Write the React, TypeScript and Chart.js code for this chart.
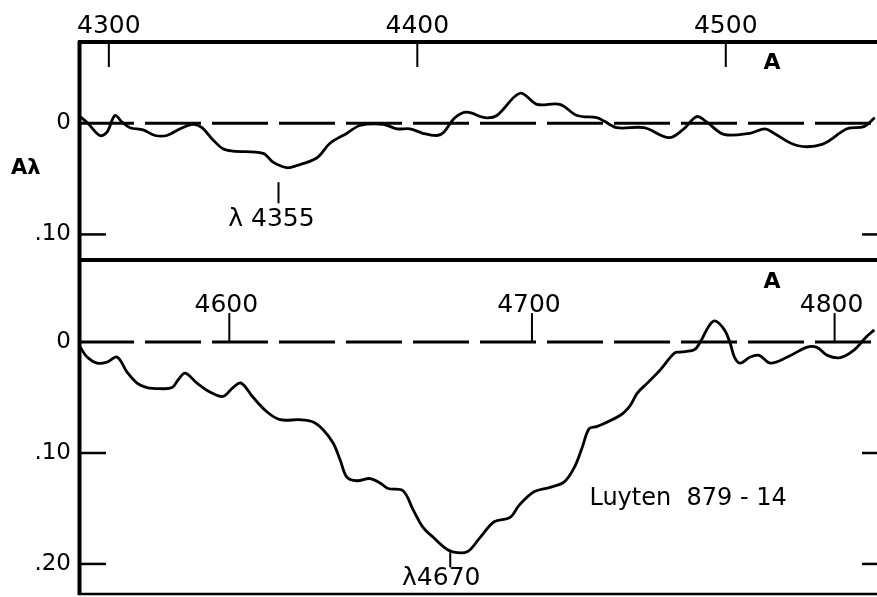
import React, { useEffect, useRef } from "react";
import { Chart, registerables } from "chart.js";

Chart.register(...registerables);

// Upper panel: wavelength (A) vs absorption A_lambda
const TOP_LAMBDA = [4290.3, 4293.2, 4297.1, 4299.4, 4302.0, 4304.3, 4306.9, 4311.1, 4315.0, 4318.8, 4323.1, 4327.3, 4330.2, 4333.8, 4337.0, 4340.2, 4350.0, 4353.2, 4357.7, 4361.0, 4367.5, 4371.7, 4377.2, 4381.4, 4388.9, 4393.4, 4397.6, 4401.8, 4406.4, 4408.6, 4412.2, 4416.1, 4421.9, 4425.8, 4433.3, 4438.8, 4446.2, 4451.8, 4458.2, 4460.5, 4464.7, 4473.5, 4481.6, 4486.4, 4490.6, 4493.9, 4499.4, 4507.8, 4512.7, 4515.6, 4523.1, 4531.2, 4539.3, 4544.8, 4548.3];
const TOP_A = [-0.007, 0, 0.011, 0.008, -0.007, -0.001, 0.004, 0.006, 0.011, 0.011, 0.005, 0.001, 0.004, 0.015, 0.023, 0.025, 0.027, 0.035, 0.040, 0.038, 0.031, 0.018, 0.009, 0.002, 0.001, 0.005, 0.005, 0.009, 0.011, 0.008, -0.005, -0.010, -0.005, -0.007, -0.027, -0.017, -0.017, -0.007, -0.005, -0.002, 0.004, 0.004, 0.013, 0.005, -0.006, -0.001, 0.010, 0.009, 0.005, 0.009, 0.020, 0.019, 0.005, 0.003, -0.005];

// Lower panel
const BOTTOM_LAMBDA = [4550.7, 4553.0, 4556.3, 4559.6, 4562.9, 4566.2, 4569.5, 4572.8, 4577.1, 4581.1, 4583.1, 4585.4, 4589.3, 4593.6, 4597.9, 4601.2, 4603.9, 4607.9, 4612.5, 4616.8, 4623.4, 4627.7, 4631.0, 4634.3, 4636.6, 4638.9, 4642.2, 4646.5, 4649.8, 4652.5, 4657.4, 4660.7, 4664.0, 4667.4, 4671.0, 4673.6, 4678.6, 4682.9, 4687.5, 4692.8, 4695.8, 4700.7, 4706.0, 4710.7, 4714.0, 4716.6, 4718.9, 4721.6, 4729.2, 4732.5, 4734.8, 4738.1, 4742.4, 4747.0, 4749.0, 4753.6, 4755.6, 4758.6, 4760.6, 4763.6, 4765.5, 4766.9, 4768.8, 4772.1, 4775.1, 4778.8, 4784.4, 4791.0, 4794.3, 4797.6, 4801.9, 4806.5, 4810.2, 4813.1];
const BOTTOM_A = [0.0045, 0.0135, 0.019, 0.018, 0.0135, 0.027, 0.037, 0.041, 0.042, 0.041, 0.034, 0.028, 0.037, 0.045, 0.049, 0.041, 0.037, 0.050, 0.063, 0.070, 0.070, 0.072, 0.079, 0.091, 0.106, 0.122, 0.125, 0.123, 0.127, 0.132, 0.134, 0.151, 0.167, 0.176, 0.185, 0.189, 0.189, 0.176, 0.162, 0.158, 0.147, 0.135, 0.131, 0.126, 0.113, 0.095, 0.078, 0.076, 0.066, 0.057, 0.046, 0.037, 0.025, 0.010, 0.009, 0.007, 0.000, -0.015, -0.019, -0.011, 0.001, 0.0135, 0.019, 0.0135, 0.012, 0.019, 0.0135, 0.0045, 0.005, 0.012, 0.014, 0.007, -0.004, -0.011];

const TOP_X_TICKS = [4300, 4400, 4500];
const BOTTOM_X_TICKS = [4600, 4700, 4800];
const TOP_Y_TICKS = [0, 0.1];
const BOTTOM_Y_TICKS = [0, 0.1, 0.2];

const TOP_RANGE = { xMin: 4290, xMax: 4550, yMin: -0.074, yMax: 0.123 };
const BOTTOM_RANGE = { xMin: 4550, xMax: 4815, yMin: -0.074, yMax: 0.228 };

const Y_LABEL = "Aλ";
const UNIT_LABEL = "A";
const TOP_LINE_LABEL = { text: "λ 4355", lambda: 4355, y1: 0.053, y2: 0.072 };
const BOTTOM_LINE_LABEL = { text: "λ4670", lambda: 4673, y1: 0.187, y2: 0.203 };
const STAR_LABEL = { text: "Luyten  879 - 14", lambda: 4719, a: 0.147 };

const FONT = '"DejaVu Sans", sans-serif';

function line(ctx: CanvasRenderingContext2D, x1: number, y1: number, x2: number, y2: number, w: number) {
  ctx.beginPath();
  ctx.lineWidth = w;
  ctx.moveTo(x1, y1);
  ctx.lineTo(x2, y2);
  ctx.stroke();
}

function yFmt(v: any) {
  const n = Number(v);
  return n === 0 ? "0" : "." + String(Math.round(n * 100));
}

function panelPlugin(isTop: boolean) {
  return {
    id: isTop ? "topPanel" : "bottomPanel",
    beforeDatasetsDraw(chart: any) {
      const { ctx, chartArea: a, scales } = chart;
      const x = scales.x;
      const y = scales.y;
      ctx.save();
      ctx.strokeStyle = "#000";
      ctx.fillStyle = "#000";
      // dashed zero line
      const y0 = y.getPixelForValue(0);
      ctx.setLineDash([56, 11]);
      line(ctx, a.left, y0, a.right, y0, 3);
      ctx.setLineDash([]);
      // frame
      line(ctx, a.left + 1.5, a.top, a.left + 1.5, a.bottom, 4);
      if (isTop) {
        line(ctx, a.left, a.top + 1, a.right, a.top + 1, 4);
        line(ctx, a.left, a.bottom, a.right, a.bottom, 4);
      } else {
        line(ctx, a.left, a.top, a.right, a.top, 4);
        line(ctx, a.left, a.bottom - 1, a.right, a.bottom - 1, 2.5);
      }
      // y tick marks (left and right, inside)
      const yTicks = isTop ? TOP_Y_TICKS : BOTTOM_Y_TICKS;
      yTicks.forEach((v) => {
        if (v === 0) return;
        const py = y.getPixelForValue(v);
        line(ctx, a.left, py, a.left + 28, py, 2.5);
        line(ctx, 862, py, a.right, py, 2.5);
      });
      // x tick marks
      if (isTop) {
        TOP_X_TICKS.forEach((v) => {
          const px = x.getPixelForValue(v);
          line(ctx, px, a.top, px, a.top + 26, 2);
        });
      } else {
        ctx.font = `25px ${FONT}`;
        ctx.textAlign = "center";
        ctx.textBaseline = "alphabetic";
        BOTTOM_X_TICKS.forEach((v) => {
          const px = x.getPixelForValue(v);
          line(ctx, px, y0 - 29, px, y0, 2);
          ctx.fillText(String(v), px - 3, y0 - 30);
        });
      }
      ctx.restore();
    },
    afterDatasetsDraw(chart: any) {
      const { ctx, chartArea: a, scales } = chart;
      const x = scales.x;
      const y = scales.y;
      ctx.save();
      ctx.strokeStyle = "#000";
      ctx.fillStyle = "#000";
      ctx.textBaseline = "alphabetic";
      // unit "A"
      ctx.font = `bold 22px ${FONT}`;
      ctx.textAlign = "center";
      ctx.fillText(UNIT_LABEL, 772, a.top + 28);
      if (isTop) {
        ctx.font = `bold 21px ${FONT}`;
        ctx.textAlign = "left";
        ctx.fillText(Y_LABEL, 11, 174);
        const lx = x.getPixelForValue(TOP_LINE_LABEL.lambda);
        const ly2 = y.getPixelForValue(TOP_LINE_LABEL.y2);
        line(ctx, lx, y.getPixelForValue(TOP_LINE_LABEL.y1), lx, ly2, 2);
        ctx.font = `25px ${FONT}`;
        ctx.textAlign = "center";
        ctx.fillText(TOP_LINE_LABEL.text, lx - 7, ly2 + 23);
      } else {
        const lx = x.getPixelForValue(BOTTOM_LINE_LABEL.lambda);
        const ly2 = y.getPixelForValue(BOTTOM_LINE_LABEL.y2);
        line(ctx, lx, y.getPixelForValue(BOTTOM_LINE_LABEL.y1), lx, ly2, 2);
        ctx.font = `25px ${FONT}`;
        ctx.textAlign = "center";
        ctx.fillText(BOTTOM_LINE_LABEL.text, lx - 9, ly2 + 18);
        ctx.font = `24px ${FONT}`;
        ctx.textAlign = "left";
        ctx.fillText(STAR_LABEL.text, x.getPixelForValue(STAR_LABEL.lambda), y.getPixelForValue(STAR_LABEL.a));
      }
      ctx.restore();
    },
  };
}

function makeChart(canvas: HTMLCanvasElement, isTop: boolean) {
  const lam = isTop ? TOP_LAMBDA : BOTTOM_LAMBDA;
  const val = isTop ? TOP_A : BOTTOM_A;
  const r = isTop ? TOP_RANGE : BOTTOM_RANGE;
  const yTicks = isTop ? TOP_Y_TICKS : BOTTOM_Y_TICKS;
  const xTicks = isTop ? TOP_X_TICKS : BOTTOM_X_TICKS;
  return new Chart(canvas, {
    type: "line",
    data: {
      datasets: [
        {
          data: lam.map((l, i) => ({ x: l, y: val[i] })),
          borderColor: "#000",
          borderWidth: 2.8,
          pointRadius: 0,
          tension: 0.35,
          fill: false,
        },
      ],
    },
    options: {
      animation: false,
      responsive: false,
      maintainAspectRatio: false,
      devicePixelRatio: 1,
      layout: { padding: isTop ? { top: 0, bottom: 2, left: 0, right: 0 } : { top: 2, bottom: 2, left: 0, right: 0 } },
      plugins: { legend: { display: false }, tooltip: { enabled: false } },
      scales: {
        x: {
          type: "linear",
          display: isTop,
          position: "top",
          min: r.xMin,
          max: r.xMax,
          grid: { display: false, drawTicks: false },
          border: { display: false },
          afterBuildTicks: (s: any) => {
            s.ticks = xTicks.map((v) => ({ value: v }));
          },
          afterFit: (s: any) => {
            s.height = isTop ? 41 : 0;
            s.paddingLeft = 0;
            s.paddingRight = 0;
            s.paddingTop = 0;
            s.paddingBottom = 0;
          },
          ticks: {
            color: "#000",
            padding: 0,
            maxRotation: 0,
            font: { family: FONT, size: 25 },
            callback: (v: any) => String(v),
          },
        },
        y: {
          type: "linear",
          position: "left",
          reverse: true,
          min: r.yMin,
          max: r.yMax,
          grid: { display: false, drawTicks: false },
          border: { display: false },
          afterBuildTicks: (s: any) => {
            s.ticks = yTicks.map((v) => ({ value: v }));
          },
          afterFit: (s: any) => {
            s.width = 78;
            s.paddingTop = 0;
            s.paddingBottom = 0;
            s.paddingLeft = 0;
            s.paddingRight = 0;
          },
          ticks: {
            color: "#000",
            padding: 7,
            font: { family: FONT, size: 23 },
            callback: yFmt,
          },
        },
      },
    },
    plugins: [panelPlugin(isTop)],
  } as any);
}

export default function App() {
  const topRef = useRef<HTMLCanvasElement>(null);
  const botRef = useRef<HTMLCanvasElement>(null);
  useEffect(() => {
    const c1 = makeChart(topRef.current!, true);
    const c2 = makeChart(botRef.current!, false);
    return () => {
      c1.destroy();
      c2.destroy();
    };
  }, []);
  return (
    <div style={{ position: "fixed", left: 0, top: 0, width: 877, height: 597, overflow: "hidden", background: "#fff" }}>
      <canvas ref={topRef} width={880} height={262} style={{ position: "absolute", left: 0, top: 0 }} />
      <canvas ref={botRef} width={880} height={339} style={{ position: "absolute", left: 0, top: 258 }} />
    </div>
  );
}
